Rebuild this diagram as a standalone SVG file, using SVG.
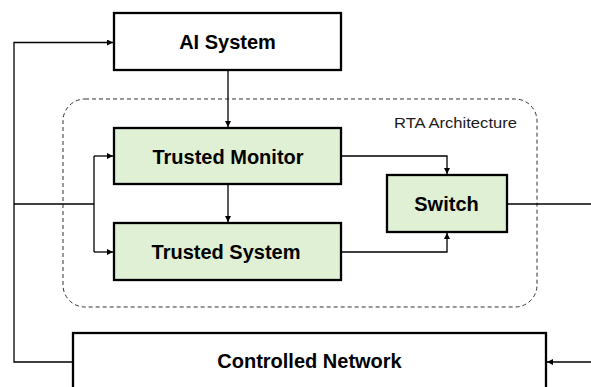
<svg xmlns="http://www.w3.org/2000/svg" width="591" height="387" viewBox="0 0 591 387">
<style>
.box{stroke:#000;stroke-width:2.3}
.plain{fill:#fff}
.green{fill:#e0f0d4}
.lbl{font-family:"Liberation Sans",Arial,sans-serif;font-weight:bold;font-size:20px;fill:#000;text-anchor:middle}
.conn{fill:none;stroke:#000;stroke-width:1.3}
</style>
<defs>
<marker id="arr" viewBox="0 0 10 10" refX="10" refY="5" markerWidth="6" markerHeight="6" markerUnits="userSpaceOnUse" orient="auto">
<path d="M0,0 L10,5 L0,10 z" fill="#000"/>
</marker>
</defs>
<rect width="591" height="387" fill="#fff"/>
<g id="rta">
<rect x="63" y="99" width="474" height="208" rx="22" ry="22" fill="none" stroke="#333" stroke-width="1" stroke-dasharray="4 3"/>
<text x="394" y="127.7" font-family="Liberation Sans,Arial,sans-serif" font-size="14.5" fill="#1a1a1a" textLength="123" lengthAdjust="spacingAndGlyphs">RTA Architecture</text>
</g>
<g id="connectors">
<polyline class="conn" points="73,362 14,362 14,42.5 113,42.5" marker-end="url(#arr)"/>
<polyline class="conn" points="14,204 94,204"/>
<polyline class="conn" points="94,156 94,252"/>
<line class="conn" x1="94" y1="156" x2="113" y2="156" marker-end="url(#arr)"/>
<line class="conn" x1="94" y1="252" x2="113" y2="252" marker-end="url(#arr)"/>
<line class="conn" x1="228" y1="71" x2="228" y2="127" marker-end="url(#arr)"/>
<line class="conn" x1="228" y1="185" x2="228" y2="222" marker-end="url(#arr)"/>
<polyline class="conn" points="342,156 447,156 447,174" marker-end="url(#arr)"/>
<polyline class="conn" points="342,252 447,252 447,233" marker-end="url(#arr)"/>
<line class="conn" x1="508" y1="204" x2="591" y2="204"/>
<line class="conn" x1="591" y1="362" x2="547" y2="362" marker-end="url(#arr)"/>
</g>
<g id="ai-system">
<rect class="box plain" x="114" y="13" width="227" height="57"/>
<text class="lbl" x="227.5" y="49">AI System</text>
</g>
<g id="trusted-monitor">
<rect class="box green" x="114" y="128" width="227" height="56"/>
<text class="lbl" x="228" y="163.5">Trusted Monitor</text>
</g>
<g id="trusted-system">
<rect class="box green" x="114" y="223" width="227" height="57"/>
<text class="lbl" x="226" y="259">Trusted System</text>
</g>
<g id="switch">
<rect class="box green" x="387" y="175" width="120" height="57"/>
<text class="lbl" x="446.5" y="211">Switch</text>
</g>
<g id="controlled-network">
<rect class="box plain" x="73" y="333" width="473" height="80"/>
<text class="lbl" x="309.5" y="368.3">Controlled Network</text>
</g>
</svg>
